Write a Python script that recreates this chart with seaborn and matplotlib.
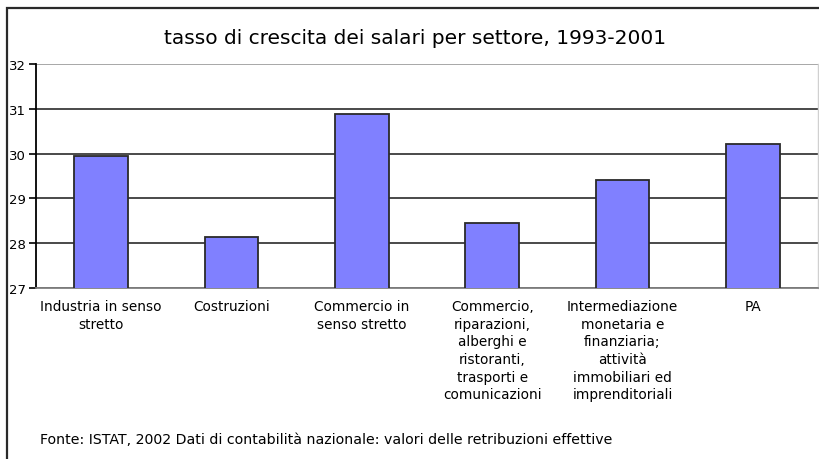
import matplotlib
matplotlib.use("Agg")
import matplotlib.pyplot as plt
import seaborn as sns
import pandas as pd
import numpy as np
from matplotlib.patches import Rectangle

categories = [
    "Industria in senso\nstretto",
    "Costruzioni",
    "Commercio in\nsenso stretto",
    "Commercio,\nriparazioni,\nalberghi e\nristoranti,\ntrasporti e\ncomunicazioni",
    "Intermediazione\nmonetaria e\nfinanziaria;\nattività\nimmobiliari ed\nimprenditoriali",
    "PA",
]
values = [29.94, 28.13, 30.89, 28.45, 29.42, 30.21]
yticks = [27, 28, 29, 30, 31, 32]
title = "tasso di crescita dei salari per settore, 1993-2001"
source = "Fonte: ISTAT, 2002 Dati di contabilità nazionale: valori delle retribuzioni effettive"

sns.set_theme(style="white")
plt.rcParams['font.family'] = ['DejaVu Sans']
plt.rcParams['text.color'] = 'black'
plt.rcParams['xtick.color'] = 'black'
plt.rcParams['ytick.color'] = 'black'

W, H = 819, 460
fig = plt.figure(figsize=(W / 100, H / 100), dpi=100)
ax = fig.add_axes([36 / W, 1 - 289 / H, (818 - 36) / W, (289 - 65) / H])

df = pd.DataFrame({"cat": categories, "val": values})
sns.barplot(data=df, x="cat", y="val", ax=ax, color="#8080FF", saturation=1,
            width=0.41, edgecolor="#2a2a2a", linewidth=1.3, zorder=3)

ax.set_ylim(yticks[0], yticks[-1])
ax.set_xlim(-0.5, len(categories) - 0.5)
ax.set_yticks(yticks)
ax.set_yticklabels([str(t) for t in yticks], fontsize=9.5)
ax.yaxis.grid(True, color="#3a3a3a", linewidth=1.3, zorder=1)
ax.set_axisbelow(True)
ax.set_xlabel("")
ax.set_ylabel("")

ax.set_xticks(range(len(categories)))
ax.set_xticklabels(categories, fontsize=9.8, linespacing=1.33, va="top")
ax.tick_params(axis="x", which="major", length=0, pad=8, labelcolor="black")
ax.set_xticks(np.arange(-0.5, len(categories), 1), minor=True)
ax.tick_params(axis="x", which="minor", length=5, width=1.2, color="#3a3a3a", direction="out")
ax.tick_params(axis="y", length=5, width=1.2, color="#000000", direction="out", pad=2,
               left=True, labelcolor="black")

ax.spines["left"].set_color("#000000")
ax.spines["left"].set_linewidth(1.3)
ax.spines["bottom"].set_color("#808080")
ax.spines["bottom"].set_linewidth(1.3)
ax.spines["top"].set_visible(False)
ax.spines["right"].set_color("#d0d0d0")
ax.spines["right"].set_linewidth(1.0)

fig.canvas.draw()
gl = ax.yaxis.get_gridlines()
gl[-1].set_color("#a0a0a0")

fig.text(415 / W, 1 - 38 / H, title, ha="center", va="center", fontsize=14.5, color="black")
fig.text(40 / W, 1 - 440 / H, source, ha="left", va="center", fontsize=10.2, color="black")

frame = Rectangle((7 / W, -0.05), 1.1, 1 - 9 / H + 0.05, transform=fig.transFigure,
                  fill=False, edgecolor="#2a2a2a", linewidth=1.6)
fig.add_artist(frame)

fig.savefig("out.png", dpi=100)
